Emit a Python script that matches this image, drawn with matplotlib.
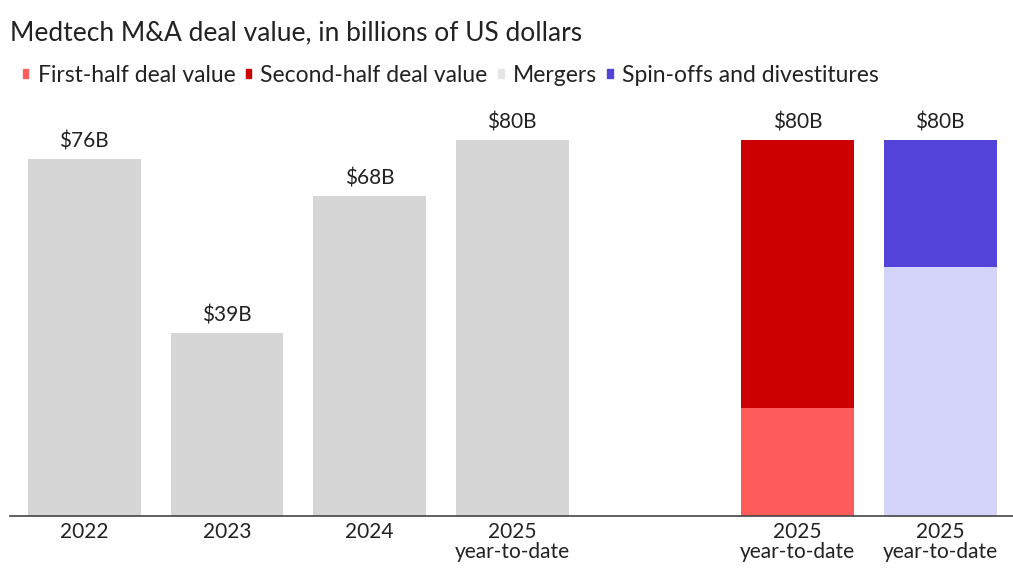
import matplotlib
matplotlib.use("Agg")
import matplotlib.pyplot as plt
from matplotlib.patches import Patch

plt.rcParams['font.family'] = ['Lato', 'DejaVu Sans']

# Annual totals (billions of US dollars)
years = ["2022", "2023", "2024", "2025\nyear-to-date"]
totals = [76, 39, 68, 80]

# 2025 year-to-date split by half
half_label = "2025\nyear-to-date"
first_half = 23
second_half = 57

# 2025 year-to-date split by deal type
type_label = "2025\nyear-to-date"
mergers = 53
spinoffs = 27

grey = "#d6d6d6"
c_first = "#ff5c5c"
c_second = "#cc0000"
c_merge = "#d4d4fa"
c_spin = "#5443d9"

fig = plt.figure(figsize=(10.13, 5.68), dpi=100)
ax = fig.add_axes([10 / 1013, 52 / 568, 1003 / 1013, 406 / 568])

pos_years = [0, 1, 2, 3]
pos_half = 5
pos_type = 6
w = 0.79

ax.bar(pos_years, totals, width=w, color=grey)
ax.bar(pos_half, first_half, width=w, color=c_first)
ax.bar(pos_half, second_half, bottom=first_half, width=w, color=c_second)
ax.bar(pos_type, mergers, width=w, color=c_merge)
ax.bar(pos_type, spinoffs, bottom=mergers, width=w, color=c_spin)

lab_kw = dict(ha="center", va="bottom", fontsize=15, color="#222222")
for p, v in zip(pos_years, totals):
    ax.text(p, v + 1.6, f"${v}B", **lab_kw)
ax.text(pos_half, first_half + second_half + 1.6, f"${first_half + second_half}B", **lab_kw)
ax.text(pos_type, mergers + spinoffs + 1.6, f"${mergers + spinoffs}B", **lab_kw)

ax.set_xlim(-0.52, 6.51)
ax.set_ylim(0, 406 / 4.7)
ax.set_xticks(pos_years + [pos_half, pos_type])
ax.set_xticklabels(years + [half_label, type_label], fontsize=15, color="#222222",
                   linespacing=1.05)
ax.tick_params(axis="x", length=0, pad=4)
ax.set_yticks([])
for s in ["top", "left", "right"]:
    ax.spines[s].set_visible(False)
ax.spines["bottom"].set_color("#444444")
ax.spines["bottom"].set_linewidth(1.2)

fig.text(10 / 1013, 1 - 33 / 568, "Medtech M&A deal value, in billions of US dollars",
         fontsize=19, color="#222222", va="center", ha="left")

handles = [Patch(color=c_first, label="First-half deal value"),
           Patch(color=c_second, label="Second-half deal value"),
           Patch(color="#e6e6e6", label="Mergers"),
           Patch(color=c_spin, label="Spin-offs and divestitures")]
fig.legend(handles=handles, loc="center left", bbox_to_anchor=(2 / 1013, 1 - 75 / 568),
           ncol=4, frameon=False, fontsize=16.5, handlelength=0.25, handleheight=0.25,
           handletextpad=0.4, columnspacing=0.45, labelcolor="#222222")

fig.savefig("out.png", dpi=100, facecolor="white")
